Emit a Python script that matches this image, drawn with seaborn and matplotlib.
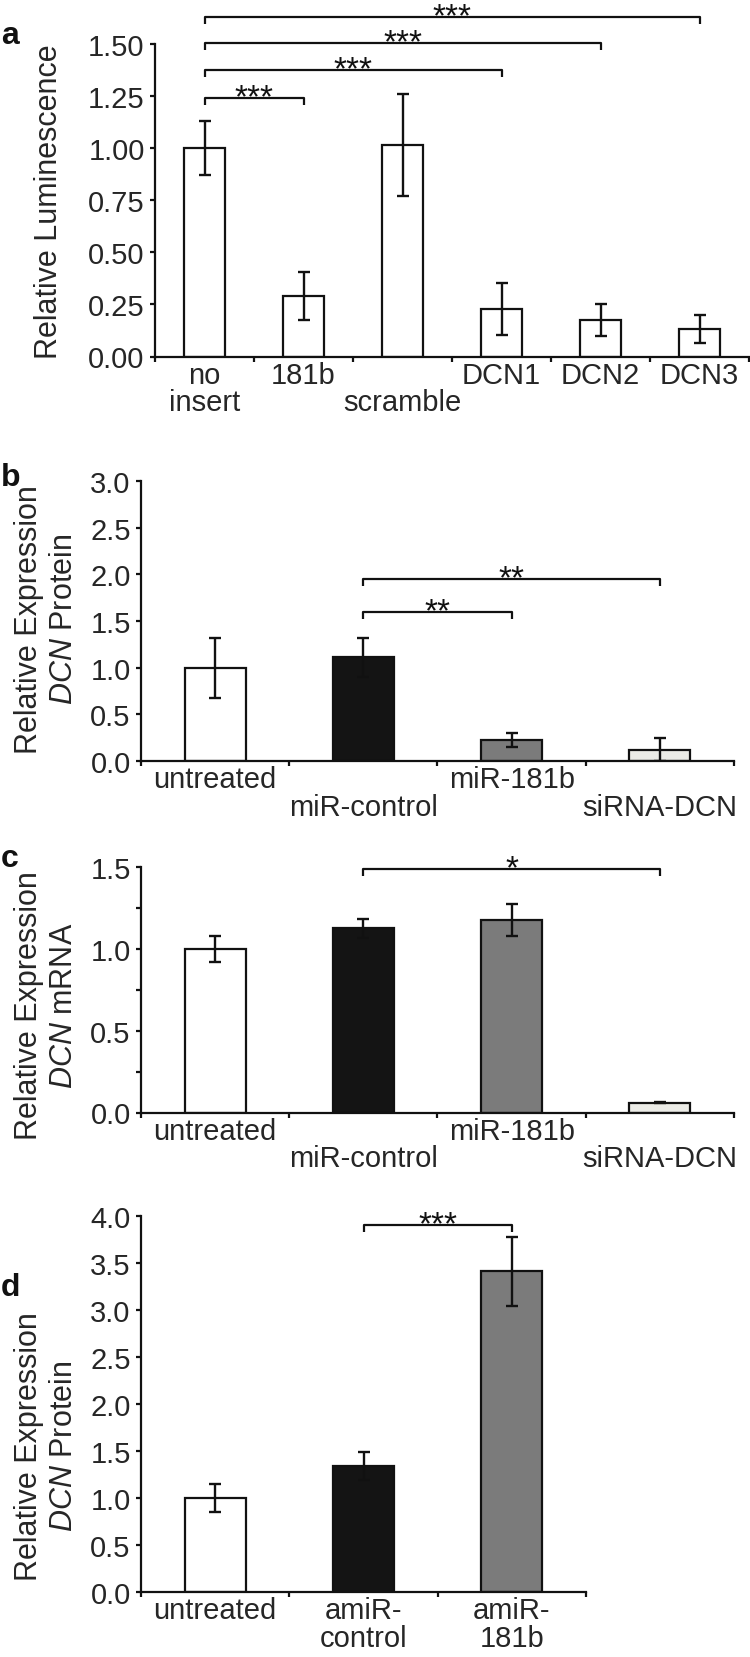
import matplotlib
matplotlib.use("Agg")
import numpy as np
import matplotlib.pyplot as plt
import seaborn as sns
from matplotlib.ticker import FormatStrFormatter

# panel a - luciferase reporter
a_labels = ["no\ninsert", "181b", "\nscramble", "DCN1", "DCN2", "DCN3"]
a_values = [1.00, 0.29, 1.015, 0.23, 0.175, 0.13]
a_errors = [0.13, 0.115, 0.245, 0.125, 0.078, 0.067]
a_sig_pairs = [(0, 1), (0, 3), (0, 4), (0, 5)]
a_sig_heights = [1.24, 1.375, 1.505, 1.63]
a_sig_text = ["***", "***", "***", "***"]

# panel b - DCN protein
b_labels = ["untreated", "\nmiR-control", "miR-181b", "\nsiRNA-DCN"]
b_values = [1.00, 1.11, 0.225, 0.12]
b_errors = [0.32, 0.21, 0.08, 0.125]
b_sig_pairs = [(1, 2), (1, 3)]
b_sig_heights = [1.60, 1.95]
b_sig_text = ["**", "**"]

# panel c - DCN mRNA
c_labels = ["untreated", "\nmiR-control", "miR-181b", "\nsiRNA-DCN"]
c_values = [1.00, 1.125, 1.175, 0.06]
c_errors = [0.08, 0.058, 0.097, 0.003]
c_sig_pairs = [(1, 3)]
c_sig_heights = [1.49]
c_sig_text = ["*"]

# panel d - DCN protein after antagomir
d_labels = ["untreated", "amiR-\ncontrol", "amiR-\n181b"]
d_values = [1.00, 1.34, 3.41]
d_errors = [0.153, 0.15, 0.37]
d_sig_pairs = [(1, 2)]
d_sig_heights = [3.90]
d_sig_text = ["***"]

WHITE, BLACK, GREY, LIGHT = "#ffffff", "#141414", "#7b7b7b", "#ebebe6"
INK = "#111111"

sns.set_style("ticks")
plt.rcParams["font.family"] = ["Liberation Sans", "DejaVu Sans"]
plt.rcParams["mathtext.fontset"] = "custom"
plt.rcParams["mathtext.rm"] = "Liberation Sans"
plt.rcParams["mathtext.it"] = "Liberation Sans:italic"

W, H = 750, 1658
fig = plt.figure(figsize=(W / 100, H / 100), dpi=100)


def px_axes(left, right, top, bottom):
    return fig.add_axes([left / W, 1 - bottom / H, (right - left) / W, (bottom - top) / H])


def draw_panel(ax, labels, values, errors, colors, ylim, major, minor, fmt,
               ylabel, label_xy, pairs, heights, texts):
    n = len(labels)
    sns.barplot(x=labels, y=values, hue=labels, palette=dict(zip(labels, colors)),
                legend=False, width=0.41, edgecolor=INK, linewidth=1.6,
                saturation=1, ax=ax)
    ax.errorbar(np.arange(n), values, yerr=errors, fmt="none", ecolor=INK,
                elinewidth=1.7, capsize=4.6, capthick=1.7)
    ax.set_xlim(-0.5, n - 0.5)
    ax.set_ylim(*ylim)
    sns.despine(ax=ax)
    for s in ["left", "bottom"]:
        ax.spines[s].set_linewidth(1.6)
        ax.spines[s].set_color(INK)

    ax.set_xticks(np.arange(n))
    ax.set_xticklabels(labels)
    for lbl in ax.get_xticklabels():
        lbl.set_linespacing(0.98)
    ax.set_xticks(np.arange(n + 1) - 0.5, minor=True)
    ax.tick_params(axis="x", which="major", length=0, pad=3, labelsize=21)
    ax.tick_params(axis="x", which="minor", length=3.3, width=1.6, direction="out", color=INK)

    ax.set_yticks(major)
    ax.set_yticks(minor, minor=True)
    ax.yaxis.set_major_formatter(FormatStrFormatter(fmt))
    ax.tick_params(axis="y", which="both", length=3.4, width=1.6, direction="out",
                   pad=4, labelsize=21, color=INK)

    ax.set_xlabel("")
    ax.set_ylabel(ylabel, fontsize=22)
    ax.yaxis.set_label_coords(*label_xy)

    # significance brackets
    inv = ax.transData.inverted()
    tip = inv.transform((0, 7))[1] - inv.transform((0, 0))[1]
    for (i, j), h, t in zip(pairs, heights, texts):
        ax.plot([i, i, j, j], [h - tip, h, h, h - tip], color=INK, lw=1.6,
                clip_on=False, solid_capstyle="butt")
        ax.annotate(t, xy=((i + j) / 2, h), xytext=(0, -6), textcoords="offset points",
                    ha="center", va="baseline", fontsize=24, color=INK,
                    annotation_clip=False)


ax_a = px_axes(155, 749, 45, 357.5)
draw_panel(ax_a, a_labels, a_values, a_errors, [WHITE] * 6, (0, 1.5),
           [0, 0.25, 0.5, 0.75, 1.0, 1.25, 1.5], [], "%.2f",
           "Relative Luminescence", ((64 - 155) / 594, 0.5),
           a_sig_pairs, a_sig_heights, a_sig_text)

ax_b = px_axes(141, 734, 482, 762)
draw_panel(ax_b, b_labels, b_values, b_errors, [WHITE, BLACK, GREY, LIGHT], (0, 3.0),
           [0, 0.5, 1.0, 1.5, 2.0, 2.5, 3.0], [], "%.1f",
           "Relative Expression\n$\\mathit{DCN}$ Protein", ((79 - 141) / 593, 0.51),
           b_sig_pairs, b_sig_heights, b_sig_text)

ax_c = px_axes(141, 734, 868, 1113.5)
draw_panel(ax_c, c_labels, c_values, c_errors, [WHITE, BLACK, GREY, LIGHT], (0, 1.5),
           [0, 0.5, 1.0, 1.5], [0.25, 0.75, 1.25], "%.1f",
           "Relative Expression\n$\\mathit{DCN}$ mRNA", ((79 - 141) / 593, 0.44),
           c_sig_pairs, c_sig_heights, c_sig_text)

ax_d = px_axes(141, 586, 1217, 1593)
draw_panel(ax_d, d_labels, d_values, d_errors, [WHITE, BLACK, GREY], (0, 4.0),
           [0, 0.5, 1.0, 1.5, 2.0, 2.5, 3.0, 3.5, 4.0], [], "%.1f",
           "Relative Expression\n$\\mathit{DCN}$ Protein", ((79 - 141) / 445, 0.39),
           d_sig_pairs, d_sig_heights, d_sig_text)

# panel letters
for letter, yc in [("a", 36), ("b", 478), ("c", 859), ("d", 1288)]:
    fig.text(1 / W, 1 - yc / H, letter, fontsize=23, fontweight="bold",
             ha="left", va="center", color=INK)

fig.savefig("out.png", dpi=100)
